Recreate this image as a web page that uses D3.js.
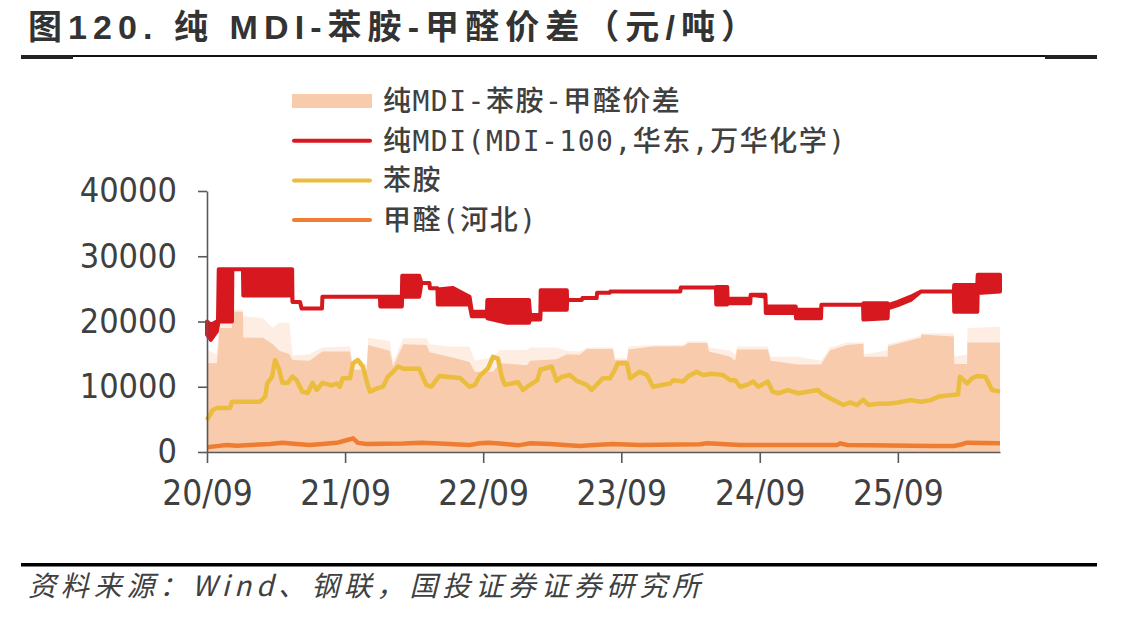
<!DOCTYPE html>
<html>
<head>
<meta charset="utf-8">
<script src="https://cdn.jsdelivr.net/npm/d3@7"></script>
<style>
  body { margin: 0; background: #fff; }
  svg { display: block; }
</style>
</head>
<body>
<div id="chart"></div>
<script>
// ---- data ----
var mdiDates = ["2020-09-01","2020-09-11","2020-09-27","2020-09-30","2020-10-02","2020-11-06","2020-11-07","2020-12-05","2020-12-06","2021-04-14",
  "2021-04-15","2021-05-05","2021-05-09","2021-07-02","2021-07-03","2021-12-02","2021-12-03","2022-01-29","2022-01-30","2022-03-16",
  "2022-03-22","2022-04-12","2022-04-13","2022-05-03","2022-05-04","2022-06-12","2022-07-27","2022-08-02","2022-09-11","2022-09-12",
  "2022-11-03","2022-12-31","2023-01-03","2023-01-30","2023-01-31","2023-04-10","2023-04-11","2023-05-20","2023-05-21","2023-06-28",
  "2023-06-29","2023-08-02","2023-08-03","2024-02-04","2024-02-05","2024-05-08","2024-05-09","2024-06-07","2024-06-08","2024-08-07",
  "2024-08-08","2024-09-16","2024-09-17","2024-12-05","2024-12-06","2025-02-10","2025-02-11","2025-06-01","2025-06-02","2025-08-05",
  "2025-08-06","2025-09-01","2025-10-05","2025-11-01","2026-01-27","2026-01-28","2026-03-30","2026-03-31","2026-05-29"];
var mdiHigh = [20000,19500,20000,20000,28000,28000,28000,28000,28000,28000,
  23000,23000,22000,22000,23800,23800,23800,23800,27000,27000,
  25900,25900,25100,25100,24900,25150,23800,21500,21500,23300,
  23300,23300,21000,21000,24800,24800,23300,23300,23600,23600,
  24400,24400,24600,24600,25200,25200,25300,25300,23500,23500,
  24100,24100,22300,22300,21800,21800,22550,22550,22800,22800,
  22500,23000,23800,24600,24600,25600,25600,27150,27150];
var mdiLow = [18000,17200,18500,19500,20000,20000,28000,28000,24000,24000,
  23000,23000,22000,22000,23800,23800,22300,22300,23800,23800,
  25900,25900,25100,25100,22600,22600,22600,20800,20800,20500,
  19800,19800,20300,20300,21800,21800,23300,23300,23600,23600,
  24400,24400,24600,24600,25200,25200,22600,22600,22800,22800,
  24100,23800,21300,21300,20500,20500,22550,22550,20300,20500,
  22000,22500,23300,24600,24600,21500,21500,24350,24600];

var anilineDates = ["2020-09-01","2020-09-16","2020-09-27","2020-11-01","2020-11-06","2021-01-19","2021-02-02","2021-02-07","2021-02-20","2021-02-28",
  "2021-03-11","2021-03-19","2021-04-02","2021-04-15","2021-04-26","2021-05-11","2021-05-25","2021-06-07","2021-06-18","2021-07-03",
  "2021-07-27","2021-08-10","2021-08-18","2021-08-26","2021-09-14","2021-09-22","2021-10-05","2021-10-18","2021-11-01","2021-11-06",
  "2021-11-24","2021-12-10","2021-12-23","2022-01-06","2022-01-19","2022-02-02","2022-03-16","2022-04-04","2022-04-17","2022-05-08",
  "2022-07-01","2022-07-27","2022-08-10","2022-08-23","2022-09-14","2022-09-27","2022-10-10","2022-10-20","2022-10-28","2022-11-16",
  "2022-12-02","2022-12-15","2023-01-03","2023-01-22","2023-01-30","2023-03-01","2023-03-14","2023-03-27","2023-04-18","2023-05-06",
  "2023-06-02","2023-06-15","2023-06-28","2023-07-14","2023-08-02","2023-08-15","2023-08-23","2023-09-16","2023-09-24","2023-10-20",
  "2023-11-08","2023-11-24","2023-12-20","2024-01-08","2024-01-16","2024-02-12","2024-02-25","2024-03-19","2024-04-04","2024-04-28",
  "2024-05-27","2024-06-15","2024-06-28","2024-07-11","2024-07-30","2024-08-15","2024-08-28","2024-09-22","2024-10-05","2024-10-20",
  "2024-11-14","2024-11-27","2024-12-12","2025-02-02","2025-02-10","2025-03-06","2025-04-10","2025-04-28","2025-05-16","2025-06-02",
  "2025-06-15","2025-07-11","2025-08-05","2025-09-01","2025-10-05","2025-11-01","2025-11-27","2025-12-18","2026-01-11","2026-02-07",
  "2026-02-12","2026-03-03","2026-03-16","2026-03-30","2026-04-20","2026-05-08","2026-05-29"];
var anilineValues = [4900,6450,6750,6750,7700,7700,8500,10500,11550,14100,
  12600,10600,10600,11550,11000,9250,9050,10600,9500,10600,
  10200,10500,10000,11350,11300,13600,14100,13100,10000,9250,
  9750,10000,11550,12300,13100,12750,12750,10250,10000,11650,
  11350,10000,10300,11650,12850,14600,14300,11550,10300,10500,
  10700,9500,10300,11000,12600,13100,10900,11500,11800,10900,
  10300,9500,10300,11300,11300,12600,13600,13600,11300,12300,
  11800,10000,10300,10500,11000,10800,11600,12300,11800,12000,
  11800,11000,11000,10000,10300,10800,10000,10800,9250,9000,
  9500,9250,9000,9500,9000,8250,7200,7600,7200,8000,
  7200,7400,7400,7600,7950,7700,7950,8500,8650,8800,
  11550,10500,11300,11650,11550,9500,9250];

var formDates = ["2020-09-01","2020-09-27","2020-10-23","2020-11-19","2020-12-23","2021-02-15","2021-03-19","2021-04-26","2021-05-30","2021-07-03",
  "2021-08-10","2021-09-14","2021-09-22","2021-10-05","2021-10-28","2022-02-02","2022-03-22","2022-06-04","2022-07-27","2022-08-23",
  "2022-09-14","2022-10-15","2022-12-02","2023-01-03","2023-02-25","2023-05-14","2023-06-10","2023-08-10","2023-10-20","2024-03-27",
  "2024-04-15","2024-07-11","2025-03-24","2025-04-02","2025-04-20","2025-12-05","2026-01-27","2026-02-15","2026-03-03","2026-05-29"];
var formValues = [720,900,1070,950,1070,1230,1400,1230,1070,1230,
  1400,1950,2100,1400,1230,1300,1400,1230,1070,1330,
  1430,1300,1020,1330,1230,920,1020,1230,1070,1200,
  1330,1070,1070,1330,1070,920,920,1150,1430,1330];

var spreadDates = ["2020-09-01","2020-09-27","2020-10-05","2020-11-06","2020-11-07","2020-12-05","2020-12-06","2021-01-27","2021-02-22","2021-03-11",
  "2021-04-07","2021-04-15","2021-05-30","2021-07-03","2021-09-14","2021-09-22","2021-10-28","2021-11-01","2021-12-28","2022-01-06",
  "2022-02-02","2022-04-04","2022-04-12","2022-06-04","2022-07-27","2022-08-10","2022-09-27","2022-10-15","2022-12-26","2023-01-03",
  "2023-03-14","2023-04-10","2023-05-14","2023-06-02","2023-08-10","2023-08-15","2023-09-16","2023-09-20","2023-11-24","2024-02-12",
  "2024-02-25","2024-04-15","2024-04-20","2024-06-15","2024-06-28","2024-07-03","2024-09-22","2024-09-30","2024-12-10","2025-02-10",
  "2025-03-06","2025-04-20","2025-06-02","2025-06-03","2025-08-05","2025-08-06","2025-11-01","2025-11-02","2026-01-27","2026-01-28",
  "2026-03-03","2026-03-04","2026-05-29"];
var spreadValues = [13650,13600,19000,19000,21500,21500,17500,17500,16500,15500,
  15000,14100,14000,15400,15400,12600,12600,16400,15500,13100,
  16500,16400,15300,14600,13800,12300,12300,13600,13300,14000,
  14200,15000,14900,15800,15800,14100,14100,15700,16150,16200,
  16700,16700,15400,14600,14000,15700,15700,14000,13400,13400,
  15600,16400,16600,14600,14600,16200,17500,18000,17700,13500,
  13500,16800,16800];
var spreadPeaks = [15650,15000,21800,21800,21800,21800,20800,20500,19000,19800,
  19800,14800,15000,16000,16200,13500,13500,17500,17000,13800,
  17450,17450,16500,16150,16150,14000,14500,15650,15650,16000,
  16000,15500,15400,16000,16000,14400,14400,16150,16400,16400,
  17000,17000,16000,15500,15000,16150,16150,14600,14600,14000,
  16000,16800,16800,15000,15600,16500,17800,18200,18200,14600,
  15000,19000,19200];

var yTicks = [0, 10000, 20000, 30000, 40000];
var xTickDates = ["2020-09-01","2021-09-01","2022-09-01","2023-09-01","2024-09-01","2025-09-01"];

var legendLabels = ["纯MDI-苯胺-甲醛价差", "纯MDI(MDI-100,华东,万华化学)", "苯胺", "甲醛(河北)"];

// ---- setup ----
var W = 1147, H = 619;
var red = "#D7181F", yellow = "#EABD3F", orange = "#EE7D31", peach = "#F8CBAD", ink = "#404040";
var parse = d3.timeParse("%Y-%m-%d");
var tickFont = "'Liberation Sans Narrow','DejaVu Sans Condensed','Liberation Sans',sans-serif";

var svg = d3.select("#chart").append("svg")
    .attr("width", W)
    .attr("height", H);

var x = d3.scaleTime()
    .domain([parse("2020-09-01"), parse("2026-05-29")])
    .range([207, 1000]);
var y = d3.scaleLinear()
    .domain([0, 40000])
    .range([452, 191]);

var spread = spreadDates.map(function(d, i) { return {date: parse(d), v: spreadValues[i], p: spreadPeaks[i]}; });
var mdi = mdiDates.map(function(d, i) { return {date: parse(d), hi: mdiHigh[i], lo: mdiLow[i]}; });
var aniline = anilineDates.map(function(d, i) { return {date: parse(d), v: anilineValues[i]}; });
var form = formDates.map(function(d, i) { return {date: parse(d), v: formValues[i]}; });

// spread: thin spikes on top, solid body below
svg.append("path")
    .datum(spread)
    .attr("d", d3.area().x(function(d) { return x(d.date); }).y0(y(0)).y1(function(d) { return y(d.p); }))
    .attr("fill", peach)
    .attr("opacity", 0.35);
svg.append("path")
    .datum(spread)
    .attr("d", d3.area().x(function(d) { return x(d.date); }).y0(y(0)).y1(function(d) { return y(d.v); }))
    .attr("fill", peach);

// MDI: daily jumps drawn as a band between low and high
svg.append("path")
    .datum(mdi)
    .attr("d", d3.area().x(function(d) { return x(d.date); }).y0(function(d) { return y(d.lo); }).y1(function(d) { return y(d.hi); }))
    .attr("fill", red)
    .attr("stroke", red)
    .attr("stroke-width", 4)
    .attr("stroke-linejoin", "round");

var line = d3.line().x(function(d) { return x(d.date); }).y(function(d) { return y(d.v); });

svg.append("path")
    .datum(aniline)
    .attr("d", line)
    .attr("fill", "none")
    .attr("stroke", yellow)
    .attr("stroke-width", 4.5)
    .attr("stroke-linejoin", "round");

svg.append("path")
    .datum(form)
    .attr("d", line)
    .attr("fill", "none")
    .attr("stroke", orange)
    .attr("stroke-width", 4.5)
    .attr("stroke-linejoin", "round");

// axes
var yAxis = svg.append("g")
    .attr("transform", "translate(207,0)")
    .call(d3.axisLeft(y).tickValues(yTicks).tickFormat(d3.format("d")).tickSize(9).tickPadding(21).tickSizeOuter(0));
yAxis.selectAll("text")
    .style("font-family", tickFont)
    .style("font-size", "34px")
    .attr("fill", ink);

var xAxis = svg.append("g")
    .attr("transform", "translate(0,452)")
    .call(d3.axisBottom(x).tickValues(xTickDates.map(parse)).tickFormat(d3.timeFormat("%y/%m")).tickSize(11).tickPadding(17).tickSizeOuter(0));
xAxis.selectAll("text")
    .style("font-family", tickFont)
    .style("font-size", "35px")
    .attr("fill", ink);

svg.selectAll(".domain, .tick line")
    .attr("stroke", "#595959")
    .attr("stroke-width", 1.6);

// legend
var legend = svg.append("g").attr("transform", "translate(292,101)");
legendLabels.forEach(function(label, i) {
  var g = legend.append("g").attr("transform", "translate(0," + (i * 39.7) + ")");
  if (i == 0) {
    g.append("rect").attr("x", 0).attr("y", -7).attr("width", 80).attr("height", 14).attr("fill", peach);
  } else {
    g.append("line").attr("x1", 2).attr("x2", 78).attr("y1", 0).attr("y2", 0)
      .attr("stroke", [null, red, yellow, orange][i])
      .attr("stroke-width", 4)
      .attr("stroke-linecap", "round");
  }
  g.append("text")
    .attr("x", 91)
    .attr("y", 10)
    .attr("fill", ink)
    .style("font-family", "'DejaVu Sans Mono','Noto Sans CJK SC',sans-serif")
    .style("font-size", "28px")
    .style("font-weight", 500)
    .style("letter-spacing", "1.5px")
    .text(label);
});

// title
svg.append("text")
    .attr("x", 28)
    .attr("y", 39)
    .attr("fill", "#333")
    .attr("textLength", 727)
    .attr("lengthAdjust", "spacing")
    .style("font-family", "'Liberation Sans','Noto Sans CJK SC',sans-serif")
    .style("font-weight", "bold")
    .style("font-size", "34px")
    .text("图120. 纯 MDI-苯胺-甲醛价差（元/吨）");

svg.append("rect").attr("x", 21).attr("y", 55).attr("width", 1076).attr("height", 2).attr("fill", "#111");
svg.append("rect").attr("x", 21).attr("y", 55).attr("width", 52).attr("height", 4).attr("fill", "#222");
svg.append("rect").attr("x", 1045).attr("y", 55).attr("width", 52).attr("height", 4).attr("fill", "#222");

// source
svg.append("rect").attr("x", 21).attr("y", 563).attr("width", 1076).attr("height", 3.5).attr("fill", "#000");
svg.append("text")
    .attr("x", 28)
    .attr("y", 596)
    .attr("fill", ink)
    .attr("textLength", 672)
    .attr("lengthAdjust", "spacing")
    .style("font-family", "'Noto Sans CJK SC',sans-serif")
    .style("font-style", "italic")
    .style("font-size", "28px")
    .text("资料来源：Wind、钢联，国投证券证券研究所");
</script>
</body>
</html>
